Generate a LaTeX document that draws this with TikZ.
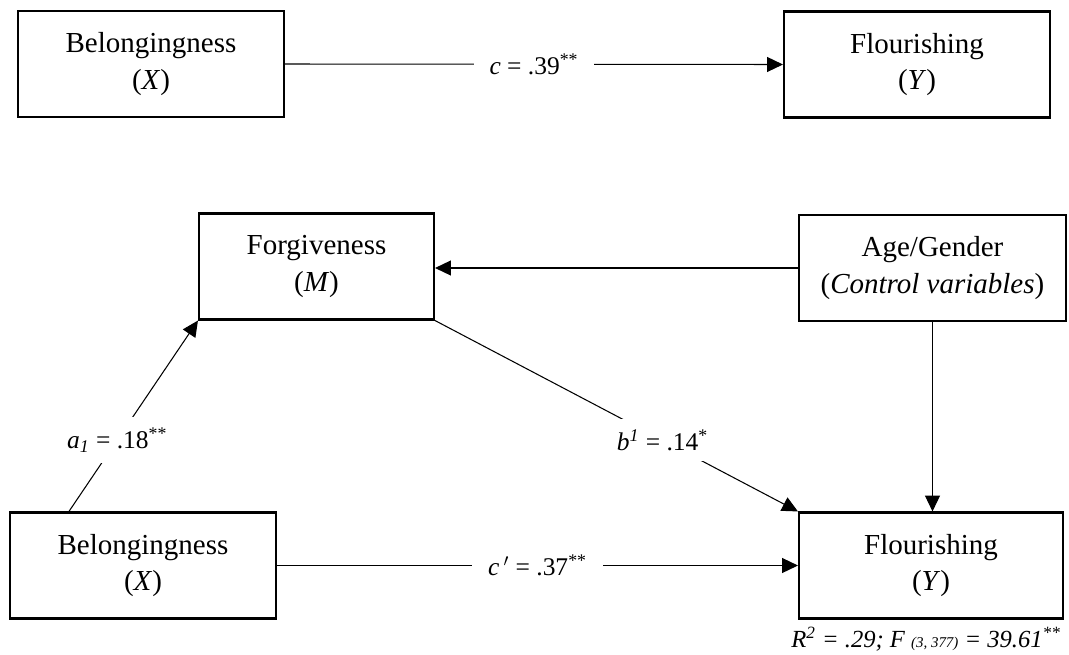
\documentclass[tikz,border=0pt]{standalone}
\usepackage{fontspec}
\setmainfont{Liberation Serif}
\usetikzlibrary{arrows.meta}

\begin{document}
\begin{tikzpicture}[box/.style = {draw,line width=1.2pt,minimum width=5.32cm,minimum height=2.12cm,inner sep=0pt,align=center,font=\fontsize{16.5}{21}\selectfont},
  link/.style = {line width=0.6pt},
  arrow/.style = {link,-{Triangle[length=9pt,width=8.5pt]}},
  coef/.style = {fill=white,inner xsep=9pt,inner ysep=6pt,font=\fontsize{14.5}{18}\selectfont}]
\useasboundingbox (0,0) rectangle (21.38,-13.1);

\node[box] (X1) at (3.02,-1.28) {Belongingness\\(\textit{X})};
\node[box] (Y1) at (18.34,-1.29) {Flourishing\\(\textit{Y})};
\node[box,minimum width=4.7cm] (M) at (6.33,-5.33) {Forgiveness\\(\textit{M})};
\node[box,minimum width=5.34cm] (C) at (18.65,-5.36) {Age/Gender\\(\textit{Control variables})};
\node[box] (X2) at (2.86,-11.31) {Belongingness\\(\textit{X})};
\node[box,minimum width=5.28cm] (Y2) at (18.62,-11.31) {Flourishing\\(\textit{Y})};
\node[anchor=east,font=\fontsize{14}{16}\selectfont\itshape] (stats) at (21.34,-12.78) {\textit{R}\textsuperscript{2} = .29; \textit{F} {\fontsize{8.5}{10}\selectfont (3, 377)} = 39.61\textsuperscript{**}};

\draw[arrow] (X1.east) -- node[coef] {\textit{c} = .39\textsuperscript{**}} (Y1.west);
\draw[arrow] (C.west) -- (C.west -| M.east);
\draw[arrow] (C.south) -- (C.south |- Y2.north);
\draw[arrow] ([xshift=1.2cm]X2.north west) -- node[coef,pos=0.375] {\textit{a\textsubscript{1}} = .18\textsuperscript{**}} (M.south west);
\draw[arrow] (M.south east) -- node[coef,pos=0.627] {\textit{b\textsuperscript{1}} = .14\textsuperscript{*}} (Y2.north west);
\draw[arrow] (X2.east) -- node[coef] {\textit{c}\,$'$ = .37\textsuperscript{**}} (Y2.west);
\end{tikzpicture}
\end{document}
